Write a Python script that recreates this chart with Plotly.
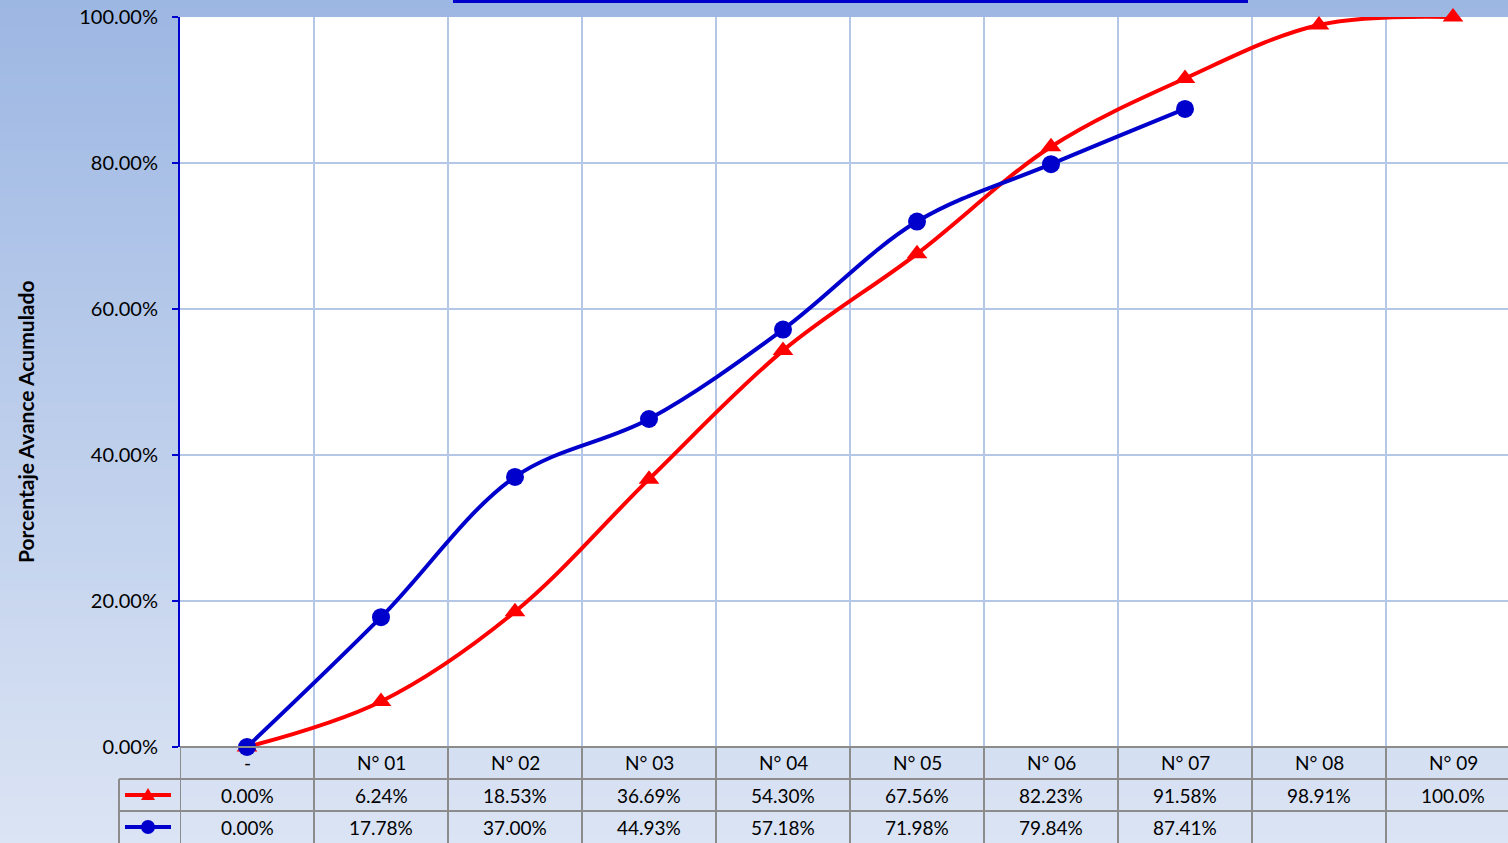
import plotly.graph_objects as go

# ---------------- data ----------------
categories = ["-", "N° 01", "N° 02", "N° 03", "N° 04", "N° 05", "N° 06", "N° 07", "N° 08", "N° 09"]
programado = [0.00, 6.24, 18.53, 36.69, 54.30, 67.56, 82.23, 91.58, 98.91, 100.0]
ejecutado = [0.00, 17.78, 37.00, 44.93, 57.18, 71.98, 79.84, 87.41]
y_ticks = [0, 20, 40, 60, 80, 100]
y_title = "Porcentaje Avance Acumulado"

RED = "#ff0000"
BLUE = "#0000cc"
GRID = "#b4c7e7"
TABLE_LINE = "#8c8c8c"
FONT = "Lato"
TXT = "#000000"

W, H = 1508, 843
ML, MR, MT, MB = 180, 0, 17, 96
PW, PH = W - ML - MR, H - MT - MB
CELL = 134.0  # px per category
x_lo = -0.5
x_hi = x_lo + PW / CELL


def py(p):
    """pixel y -> paper y"""
    return (H - MB - p) / PH


def px(p):
    """pixel x -> paper x"""
    return (p - ML) / PW


def fmt(v):
    return f"{v:.2f}%" if v < 100 else f"{v:.1f}%"


xs = list(range(len(categories)))

fig = go.Figure()
fig.add_trace(go.Scatter(
    x=xs[:len(programado)], y=programado, mode="lines+markers", name="Programado",
    line=dict(color=RED, width=4, shape="spline", smoothing=1.0),
    marker=dict(symbol="triangle-up", size=18, color=RED),
    cliponaxis=False, hoverinfo="skip"))
fig.add_trace(go.Scatter(
    x=xs[:len(ejecutado)], y=ejecutado, mode="lines+markers", name="Ejecutado",
    line=dict(color=BLUE, width=4, shape="spline", smoothing=1.0),
    marker=dict(symbol="circle", size=18, color=BLUE),
    cliponaxis=False, hoverinfo="skip"))

shapes = []
# background gradient
top = (157, 183, 227)
bot = (219, 228, 244)
n = 90
for i in range(n):
    t = i / (n - 1)
    c = tuple(round(top[k] + (bot[k] - top[k]) * t) for k in range(3))
    p0 = H * i / n
    p1 = H * (i + 1) / n + 1
    shapes.append(dict(type="rect", xref="paper", yref="paper", layer="below",
                       x0=px(0), x1=1.0, y0=py(p1), y1=py(p0),
                       line=dict(width=0), fillcolor="rgb(%d,%d,%d)" % c))
# white plot area
shapes.append(dict(type="rect", xref="paper", yref="paper", layer="below",
                   x0=0, x1=1, y0=0, y1=1, line=dict(width=0), fillcolor="white"))
# top title-box border fragment
shapes.append(dict(type="rect", xref="paper", yref="paper", layer="above",
                   x0=px(453), x1=px(1248), y0=py(3), y1=py(0),
                   line=dict(width=0), fillcolor=BLUE))

# data table grid
row_lines = [779, 811]
for p in row_lines:
    shapes.append(dict(type="line", xref="paper", yref="paper", layer="above",
                       x0=px(119), x1=1.0, y0=py(p), y1=py(p),
                       line=dict(color=TABLE_LINE, width=2)))
shapes.append(dict(type="line", xref="paper", yref="paper", layer="above",
                   x0=0, x1=1.0, y0=0, y1=0, line=dict(color=TABLE_LINE, width=2)))
for k in range(len(categories) + 1):
    xb = k - 0.5
    if xb > x_hi:
        break
    shapes.append(dict(type="line", xref="x", yref="paper", layer="above",
                       x0=xb, x1=xb, y0=0, y1=py(H),
                       line=dict(color=TABLE_LINE, width=2)))
shapes.append(dict(type="line", xref="paper", yref="paper", layer="above",
                   x0=px(119), x1=px(119), y0=py(779), y1=py(H),
                   line=dict(color=TABLE_LINE, width=2)))

# legend keys in table
key_x0, key_x1, key_c = 125, 171, 148
for p, col, sym in [(795, RED, "tri"), (827, BLUE, "circ")]:
    shapes.append(dict(type="line", xref="paper", yref="paper", layer="above",
                       x0=px(key_x0), x1=px(key_x1), y0=py(p), y1=py(p),
                       line=dict(color=col, width=4)))
    if sym == "circ":
        shapes.append(dict(type="circle", xref="paper", yref="paper", layer="above",
                           xsizemode="pixel", ysizemode="pixel",
                           xanchor=px(key_c), yanchor=py(p),
                           x0=-7, x1=7, y0=-7, y1=7,
                           line=dict(width=0), fillcolor=col))
    else:
        shapes.append(dict(type="path", xref="paper", yref="paper", layer="above",
                           xsizemode="pixel", ysizemode="pixel",
                           xanchor=px(key_c), yanchor=py(p),
                           path="M -7 -5 L 7 -5 L 0 7 Z",
                           line=dict(width=0), fillcolor=col))

annotations = []
cell_font = dict(family=FONT, size=19, color=TXT)
for i, c in enumerate(categories):
    annotations.append(dict(x=i, y=py(763), xref="x", yref="paper", text=c,
                            xanchor="center", yanchor="middle",
                            showarrow=False, font=cell_font))
for i, v in enumerate(programado):
    annotations.append(dict(x=i, y=py(795), xref="x", yref="paper", text=fmt(v),
                            xanchor="center", yanchor="middle",
                            showarrow=False, font=cell_font))
for i, v in enumerate(ejecutado):
    annotations.append(dict(x=i, y=py(827), xref="x", yref="paper", text=fmt(v),
                            xanchor="center", yanchor="middle",
                            showarrow=False, font=cell_font))
annotations.append(dict(x=px(25), y=py(422), xref="paper", yref="paper", text="<b>%s</b>" % y_title,
                        xanchor="center", yanchor="middle",
                        textangle=-90, showarrow=False,
                        font=dict(family=FONT, size=21, color=TXT)))

fig.update_layout(
    width=W, height=H,
    margin=dict(l=ML, r=MR, t=MT, b=MB, pad=0),
    paper_bgcolor="#dae3f3", plot_bgcolor="white",
    showlegend=False,
    shapes=shapes, annotations=annotations,
    font=dict(family=FONT, color=TXT),
    xaxis=dict(range=[x_lo, x_hi], tickvals=[k - 0.5 for k in range(len(categories) + 1)],
               showticklabels=False, ticks="", showgrid=True, gridcolor=GRID, gridwidth=1.5,
               zeroline=False, showline=False, fixedrange=True),
    yaxis=dict(range=[0, 100], tickvals=y_ticks, ticktext=[f"{v:.2f}%" for v in y_ticks],
               showgrid=True, gridcolor=GRID, gridwidth=1.5, zeroline=False,
               showline=True, linecolor=BLUE, linewidth=2,
               ticks="outside", ticklen=6, tickwidth=2, tickcolor=BLUE,
               ticklabelstandoff=10,
               tickfont=dict(family=FONT, size=20, color=TXT), fixedrange=True),
)

fig.write_html("out.html", config={"displayModeBar": False, "staticPlot": True},
               post_script="document.body.style.margin='0';document.body.style.overflow='hidden';")
